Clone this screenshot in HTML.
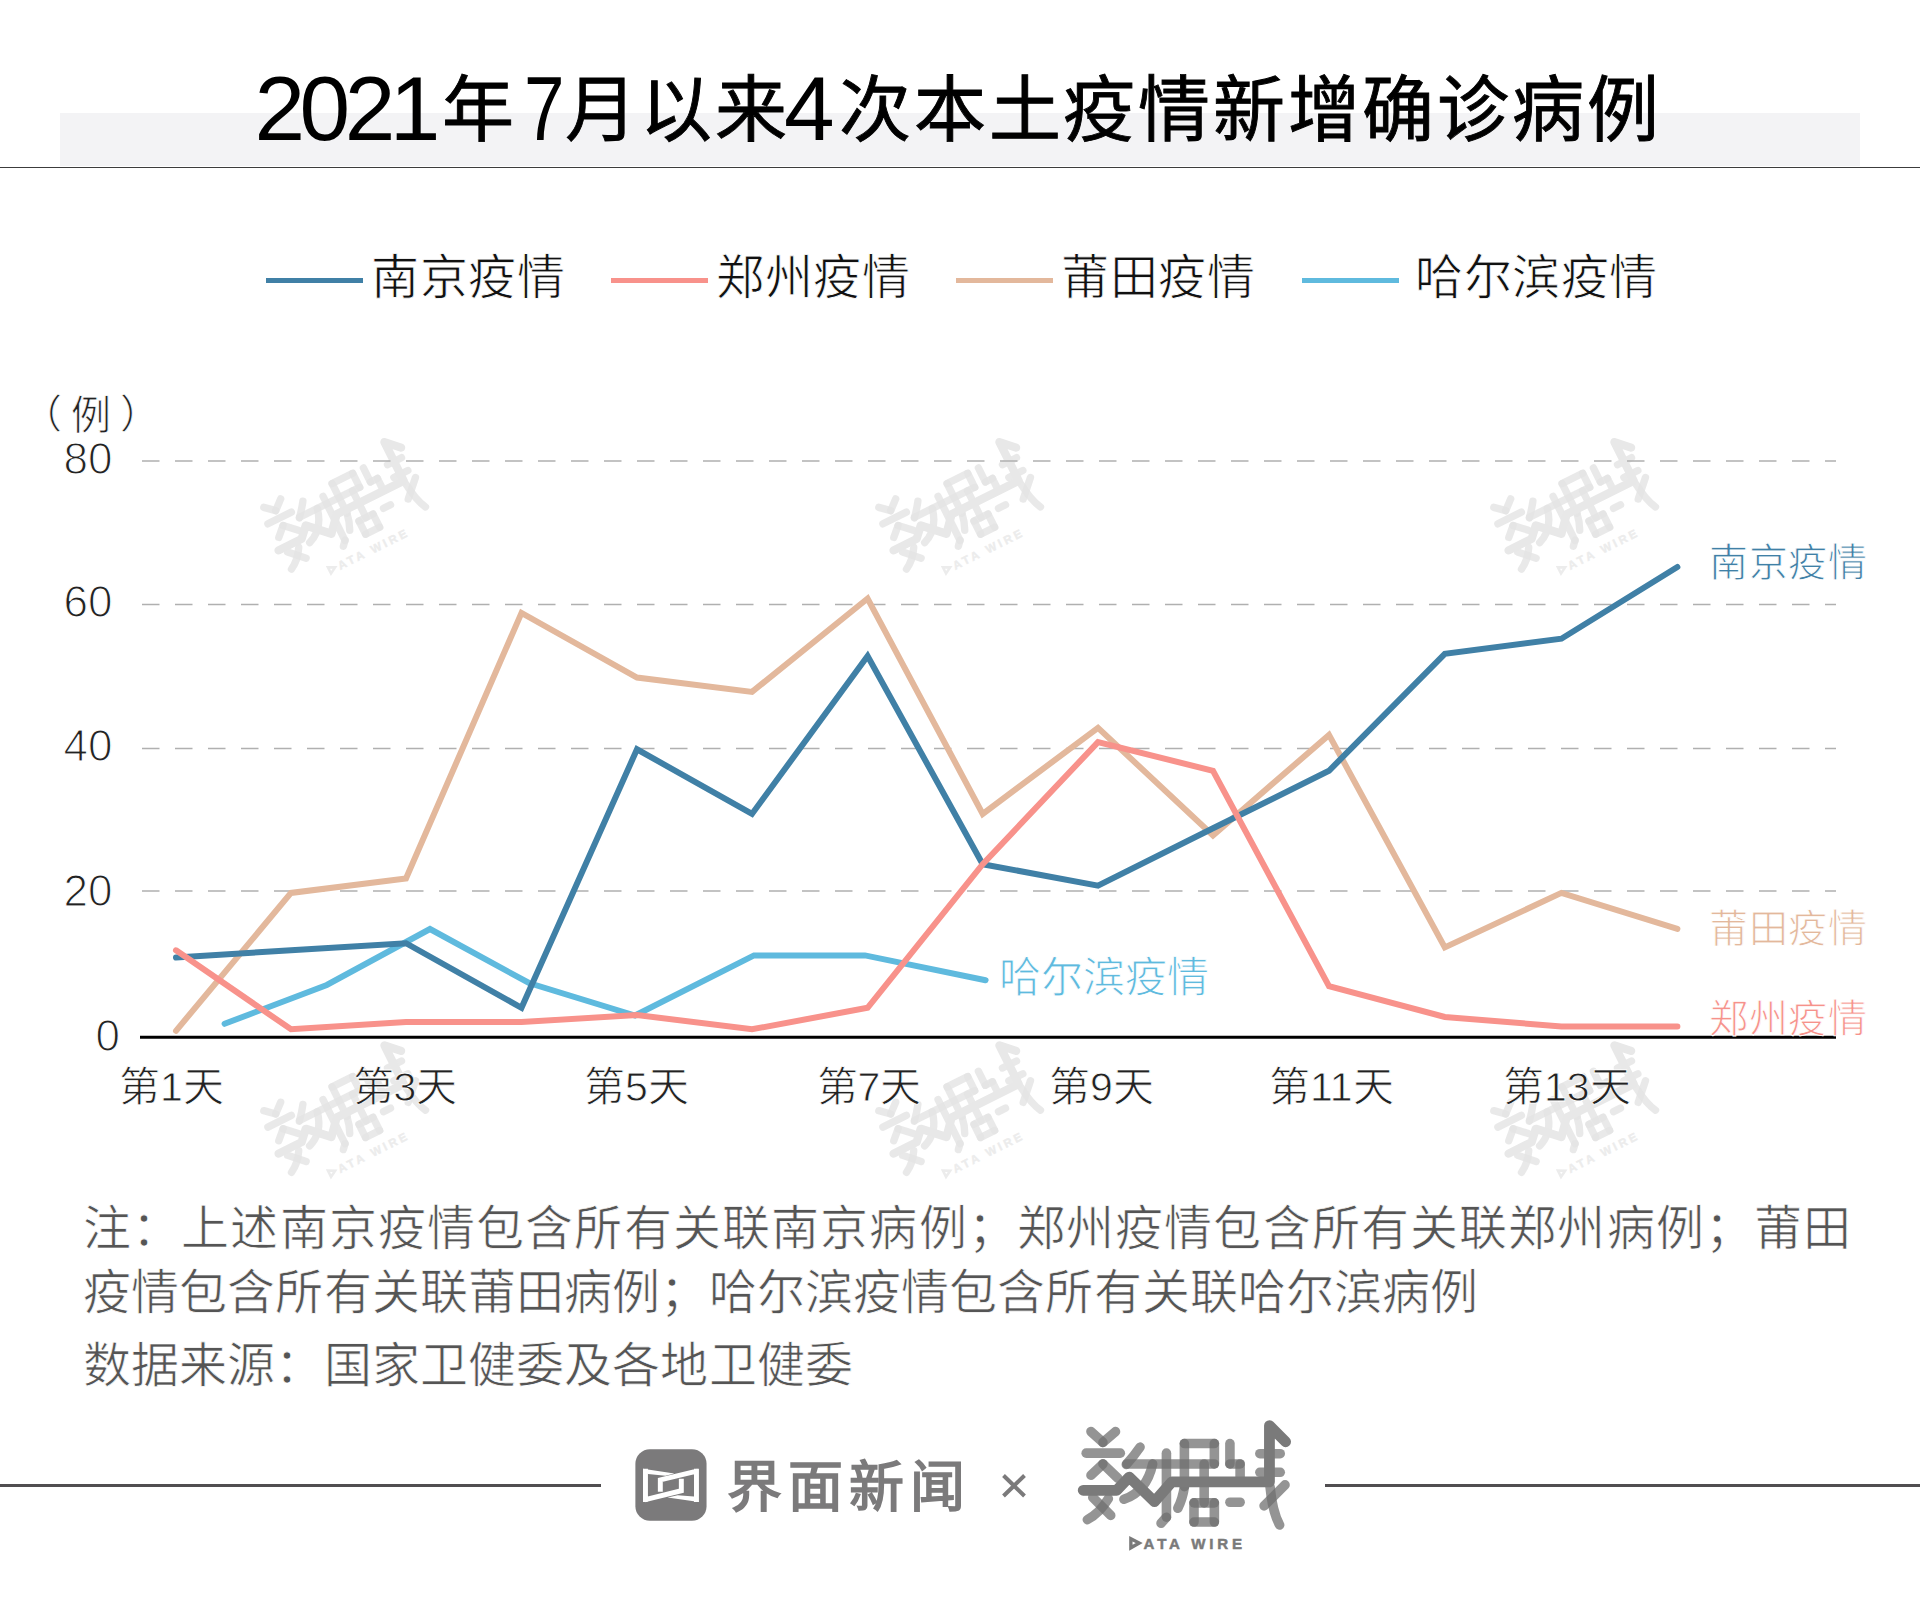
<!DOCTYPE html>
<html lang="zh-CN"><head>
<meta charset="utf-8">
<style>
html,body{margin:0;padding:0;}
body{width:1920px;height:1606px;overflow:hidden;background:#fff;position:relative;font-family:"Liberation Sans",sans-serif;color:#000;}
.a{position:absolute;white-space:nowrap;line-height:1;}
svg{position:absolute;left:0;top:0;}
.lg{top:254px;font-size:48px;letter-spacing:0.6px;color:#111;-webkit-text-stroke:0.8px #fff}
.t{font-size:72px;font-weight:normal;letter-spacing:2.75px;color:#000;-webkit-text-stroke:0.9px #000}
</style>
</head>
<body>
<!-- title -->
<div class="a" style="left:60px;top:113px;width:1800px;height:53px;background:#f3f3f5;"></div>
<div class="a" style="left:0;top:167px;width:1920px;height:1px;background:#3c3c3c;"></div>
<div class="a" style="left:254.5px;top:62.5px;font-size:91px;letter-spacing:-5.5px;color:#000">2021</div>
<div class="a t" style="left:442px;top:74px;">年</div>
<div class="a" style="left:524px;top:62.5px;font-size:91px;color:#000;transform:scaleX(0.8);transform-origin:0 0">7</div>
<div class="a t" style="left: 565px; top: 74px; letter-spacing: 0px; width: 221.5px; text-align: justify; text-align-last: justify;">月以来</div>
<div class="a" style="left:784px;top:62.5px;font-size:91px;color:#000">4</div>
<div class="a t" style="left: 839px; top: 74px; letter-spacing: 0px; width: 819.5px; text-align: justify; text-align-last: justify;">次本土疫情新增确诊病例</div>

<!-- legend -->
<div class="a" style="left:266px;top:277.6px;width:97.3px;height:5.6px;background:#4080a6"></div>
<div class="a" style="left:611px;top:277.6px;width:97.3px;height:5.6px;background:#f8928b"></div>
<div class="a" style="left:956px;top:277.6px;width:97.3px;height:5.6px;background:#e3b89c"></div>
<div class="a" style="left:1302px;top:277.6px;width:97.3px;height:5.6px;background:#5fbade"></div>
<div class="a lg" style="left: 371px; letter-spacing: 0px; width: 193.81px; text-align: justify; text-align-last: justify;">南京疫情</div>
<div class="a lg" style="left: 716px; letter-spacing: 0px; width: 193.81px; text-align: justify; text-align-last: justify;">郑州疫情</div>
<div class="a lg" style="left: 1061px; letter-spacing: 0px; width: 193.81px; text-align: justify; text-align-last: justify;">莆田疫情</div>
<div class="a lg" style="left: 1415px; letter-spacing: 0px; width: 242.4px; text-align: justify; text-align-last: justify;">哈尔滨疫情</div>

<svg width="1920" height="1606" viewBox="0 0 1920 1606" id="chart">
<defs>
  <g id="lgl" fill="none" stroke-width="80" stroke-linecap="round" stroke-linejoin="round">
    <path d="M175 180L275 270"></path>
    <path d="M380 180L275 270"></path>
    <path d="M135 360H420"></path>
    <path d="M275 450L175 545"></path>
    <path d="M275 450L400 570"></path>
    <path d="M190 730L340 880"></path>
    <path d="M145 915Q250 860 320 740"></path>
    <path d="M585 310Q530 390 470 455"></path>
    <path d="M475 450H1205"></path>
    <path d="M1335 450H1420"></path>
    <path d="M690 450Q640 680 450 745"></path>
    <path d="M805 360V895"></path>
    <path d="M805 895L760 945"></path>
    <path d="M955 640V280"></path>
    <path d="M955 280H1205"></path>
    <path d="M1205 280V450"></path>
    <path d="M955 640Q940 740 900 820"></path>
    <path d="M1120 450V775"></path>
    <path d="M1035 775H1205"></path>
    <path d="M1205 775V935"></path>
    <path d="M1205 935H1035"></path>
    <path d="M1035 935V775"></path>
    <path d="M1335 280V450"></path>
    <path d="M1420 450V560"></path>
    <path d="M1335 770H1420"></path>
    <path d="M1585 365H1755"></path>
    <path d="M1585 520H1755"></path>
    <path d="M1795 625L1620 800"></path>
    <path d="M1670 640Q1690 850 1750 960"></path>
  </g>
  <path id="lgd" fill="none" stroke-width="90" stroke-linecap="round" stroke-linejoin="round" d="M110 670H390L495 560L705 765L850 600H1665V130L1800 265"></path>
  <g id="lgt">
    <path d="M508 1074L578 1110L508 1150Z" fill="none" stroke-width="28" stroke-linejoin="miter"></path>
    <text x="614" y="1160" font-size="126" font-weight="bold" letter-spacing="32" stroke-width="4" font-family="Liberation Sans, sans-serif">ATA WIRE</text>
  </g>
  <g id="wmk">
    <g stroke="#e3e3e3" stroke-opacity="0.8"><use href="#lgl"></use></g>
    <use href="#lgd" stroke="#e8e8e8"></use>
    <use href="#lgt" stroke="#ececec" fill="#ececec"></use>
  </g>
</defs>
  <g id="wm">
    <use href="#wmk" transform="translate(242 499.7) rotate(-26.5) scale(0.092)"></use>
    <use href="#wmk" transform="translate(857 499.7) rotate(-26.5) scale(0.092)"></use>
    <use href="#wmk" transform="translate(1472 499.7) rotate(-26.5) scale(0.092)"></use>
    <use href="#wmk" transform="translate(242 1103) rotate(-26.5) scale(0.092)"></use>
    <use href="#wmk" transform="translate(857 1103) rotate(-26.5) scale(0.092)"></use>
    <use href="#wmk" transform="translate(1472 1103) rotate(-26.5) scale(0.092)"></use>
  </g>
  <g stroke="#b0b0b0" stroke-width="1.3" stroke-dasharray="17.5 15.5" fill="none">
    <line x1="142" y1="461" x2="1836" y2="461"></line>
    <line x1="142" y1="604.5" x2="1836" y2="604.5"></line>
    <line x1="142" y1="748.5" x2="1836" y2="748.5"></line>
    <line x1="142" y1="891" x2="1836" y2="891"></line>
  </g>
  <line x1="140" y1="1037.3" x2="1836" y2="1037.3" stroke="#000" stroke-width="3"></line>
  <g fill="none" stroke-width="6" stroke-linecap="round" stroke-linejoin="miter">
    <polyline stroke="#5fbade" points="224.6,1023.8 326.8,985 430,929 529,983 635,1015.5 754,955.4 865,955.4 985.6,980.2"></polyline>
    <polyline stroke="#e3b89c" points="176,1030.8 291,892.9 406,878.5 521.5,612.9 637,677.5 752,691.9 867.6,598.5 982.7,813.9 1098,727.8 1213,835.5 1329,734.9 1444.8,947.4 1561.4,892.9 1677.4,928.8"></polyline>
    <polyline stroke="#4080a6" points="176,957.5 291,950.3 406,943.2 521.5,1007.8 637,749.3 752,813.9 867.6,656.0 982.7,864.2 1098,885.7 1213,828.3 1329,770.8 1444.8,653.8 1561.4,638.7 1677.4,567.0"></polyline>
    <polyline stroke="#f8928b" points="176,950.3 291,1029.3 406,1022.1 521.5,1022.1 637,1015.0 752,1029.3 867.6,1007.8 982.7,864.2 1098,742.1 1213,770.8 1329,986.2 1444.8,1017.0 1561.4,1026.4 1677.4,1026.4"></polyline>
  </g>
</svg>

<!-- y axis -->
<div class="a" style="left:21.5px;top:394px;font-size:40px;color:#222;-webkit-text-stroke:0.8px #fff">（</div><div class="a" style="left:71px;top:395px;font-size:40px;color:#222;-webkit-text-stroke:0.8px #fff">例</div><div class="a" style="left:120px;top:394px;font-size:40px;color:#222;-webkit-text-stroke:0.8px #fff">）</div>
<div class="a" style="left:63.5px;top:436.5px;font-size:44px;color:#222;-webkit-text-stroke:1.2px #fff">80</div>
<div class="a" style="left:63.5px;top:580px;font-size:44px;color:#222;-webkit-text-stroke:1.2px #fff">60</div>
<div class="a" style="left:63.5px;top:724px;font-size:44px;color:#222;-webkit-text-stroke:1.2px #fff">40</div>
<div class="a" style="left:63.5px;top:868.5px;font-size:44px;color:#222;-webkit-text-stroke:1.2px #fff">20</div>
<div class="a" style="left:95.5px;top:1014px;font-size:44px;color:#222;-webkit-text-stroke:1.2px #fff">0</div>

<!-- x axis -->
<div class="a" style="left: 119px; top: 1067px; font-size: 41px; color: rgb(34, 34, 34); -webkit-text-stroke: 0.8px rgb(255, 255, 255); letter-spacing: 0px; width: 104.81px; text-align: justify; text-align-last: justify;">第1天</div>
<div class="a" style="left: 352.5px; top: 1067px; font-size: 41px; color: rgb(34, 34, 34); -webkit-text-stroke: 0.8px rgb(255, 255, 255); letter-spacing: 0px; width: 104.81px; text-align: justify; text-align-last: justify;">第3天</div>
<div class="a" style="left: 584px; top: 1067px; font-size: 41px; color: rgb(34, 34, 34); -webkit-text-stroke: 0.8px rgb(255, 255, 255); letter-spacing: 0px; width: 104.81px; text-align: justify; text-align-last: justify;">第5天</div>
<div class="a" style="left: 816.5px; top: 1067px; font-size: 41px; color: rgb(34, 34, 34); -webkit-text-stroke: 0.8px rgb(255, 255, 255); letter-spacing: 0px; width: 104.81px; text-align: justify; text-align-last: justify;">第7天</div>
<div class="a" style="left: 1049px; top: 1067px; font-size: 41px; color: rgb(34, 34, 34); -webkit-text-stroke: 0.8px rgb(255, 255, 255); letter-spacing: 0px; width: 104.81px; text-align: justify; text-align-last: justify;">第9天</div>
<div class="a" style="left: 1269px; top: 1067px; font-size: 41px; color: rgb(34, 34, 34); -webkit-text-stroke: 0.8px rgb(255, 255, 255); letter-spacing: 0px; width: 124.56px; text-align: justify; text-align-last: justify;">第11天</div>
<div class="a" style="left: 1503px; top: 1067px; font-size: 41px; color: rgb(34, 34, 34); -webkit-text-stroke: 0.8px rgb(255, 255, 255); letter-spacing: 0px; width: 127.61px; text-align: justify; text-align-last: justify;">第13天</div>

<!-- end labels -->
<div class="a" style="left: 1709px; top: 542.5px; font-size: 39px; letter-spacing: 0px; color: rgb(64, 128, 166); -webkit-text-stroke: 0.9px rgb(255, 255, 255); width: 157.81px; text-align: justify; text-align-last: justify;">南京疫情</div>
<div class="a" style="left: 1709px; top: 908.5px; font-size: 39px; letter-spacing: 0px; color: rgb(227, 184, 156); -webkit-text-stroke: 0.9px rgb(255, 255, 255); width: 157.81px; text-align: justify; text-align-last: justify;">莆田疫情</div>
<div class="a" style="left: 1709px; top: 998.5px; font-size: 39px; letter-spacing: 0px; color: rgb(246, 146, 139); -webkit-text-stroke: 0.9px rgb(255, 255, 255); width: 157.81px; text-align: justify; text-align-last: justify;">郑州疫情</div>
<div class="a" style="left: 999px; top: 956.5px; font-size: 42px; color: rgb(95, 186, 222); -webkit-text-stroke: 0.9px rgb(255, 255, 255); letter-spacing: 0px; width: 210px; text-align: justify; text-align-last: justify;">哈尔滨疫情</div>

<!-- notes -->
<div class="a" style="left: 83px; top: 1205px; font-size: 48px; color: rgb(85, 85, 85); letter-spacing: 0px; -webkit-text-stroke: 0.7px rgb(255, 255, 255); width: 1768.26px; text-align: justify; text-align-last: justify;">注：上述南京疫情包含所有关联南京病例；郑州疫情包含所有关联郑州病例；莆田</div>
<div class="a" style="left: 83px; top: 1269px; font-size: 48px; color: rgb(85, 85, 85); letter-spacing: 0px; -webkit-text-stroke: 0.7px rgb(255, 255, 255); width: 1395.36px; text-align: justify; text-align-last: justify;">疫情包含所有关联莆田病例；哈尔滨疫情包含所有关联哈尔滨病例</div>
<div class="a" style="left: 83px; top: 1341.5px; font-size: 48px; color: rgb(85, 85, 85); letter-spacing: 0px; -webkit-text-stroke: 0.7px rgb(255, 255, 255); width: 769.8px; text-align: justify; text-align-last: justify;">数据来源：国家卫健委及各地卫健委</div>

<!-- footer -->
<div class="a" style="left:0;top:1484px;width:601px;height:3px;background:#504e50"></div>
<div class="a" style="left:1325px;top:1484px;width:595px;height:3px;background:#504e50"></div>
<svg style="left:625px;top:1440px" width="100" height="90" viewBox="0 0 1784 1606">
  <rect x="185" y="165" width="1270" height="1275" rx="260" fill="#7b7a7b"></rect>
  <g stroke="#fff" stroke-width="88" fill="none">
    <path d="M365 515V1105M1275 515V1105M630 925V712L1300 550M1005 690V905L345 1070"></path>
  </g>
  <g fill="#fff">
    <path d="M320 515L880 600L720 640L410 608Z"></path>
    <path d="M760 1025L940 985L1230 1010L1320 1105Z"></path>
  </g>
</svg>
<svg style="left:1070px;top:1410px" width="230" height="150" viewBox="0 0 1920 1252">
  <g stroke="#6e6e6e" stroke-opacity="0.74"><use href="#lgl"></use></g>
  <use href="#lgd" stroke="#7a7a7a"></use>
  <use href="#lgt" stroke="#7a7a7a" fill="#7a7a7a"></use>
</svg>
<div class="a" style="left: 727px; top: 1460px; font-size: 55px; font-weight: bold; letter-spacing: 0px; color: rgb(123, 122, 123); width: 238px; text-align: justify; text-align-last: justify;">界面新闻</div>
<svg style="left:995px;top:1465px" width="40" height="40" viewBox="995 1465 40 40"><path d="M1003.5 1475.5L1024.5 1496M1024.5 1475.5L1003.5 1496" stroke="#7b7a7b" stroke-width="4"></path></svg>


</body></html>
